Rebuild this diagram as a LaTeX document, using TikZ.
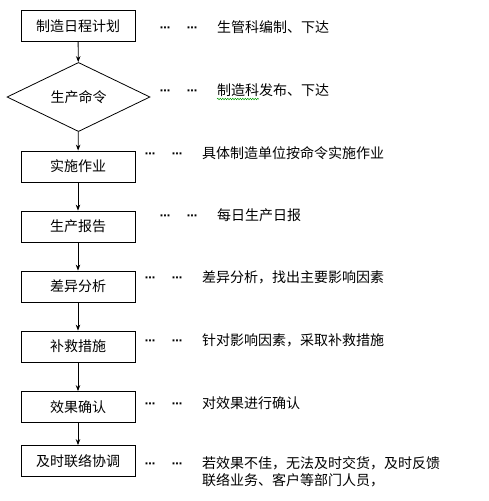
\documentclass[tikz,border=0pt]{standalone}
\usepackage{fontspec}
\setmainfont{Noto Sans CJK SC}
\newfontfamily\dotfont{DejaVu Sans}
\usetikzlibrary{shapes.geometric,arrows.meta,decorations.pathmorphing}
\begin{document}
\begin{tikzpicture}[x=1pt,y=-1pt,
  txt/.style={font=\fontsize{14}{16}\selectfont},
  stepbox/.style={txt,draw,line width=0.8pt,minimum width=114pt,minimum height=31pt,inner sep=0pt},
  decision/.style={txt,draw,line width=0.8pt,diamond,minimum width=143pt,minimum height=52pt,inner sep=0pt},
  flow/.style={draw,line width=0.8pt,-{Stealth[length=6pt,width=4.5pt]}},
  note/.style={txt,anchor=west,inner sep=0pt},
  dots/.style={inner sep=0pt,anchor=base,font=\dotfont\bfseries\fontsize{10.5}{12}\selectfont}]
\useasboundingbox (0,0) rectangle (488,501);
\node[stepbox] (b1) at (78,26) {制造日程计划};
\node[decision] (b2) at (78.5,97) {生产命令};
\node[stepbox] (b3) at (78,166.5) {实施作业};
\node[stepbox] (b4) at (78,226.5) {生产报告};
\node[stepbox] (b5) at (78,286.5) {差异分析};
\node[stepbox] (b6) at (78,346.5) {补救措施};
\node[stepbox] (b7) at (78,407) {效果确认};
\node[stepbox] (b8) at (78,461) {及时联络协调};
\draw[flow] (b1) -- (b2);
\draw[flow] (b2) -- (b3);
\draw[flow] (b3) -- (b4);
\draw[flow] (b4) -- (b5);
\draw[flow] (b5) -- (b6);
\draw[flow] (b6) -- (b7);
\draw[flow] (b7) -- (b8);
% side notes
\node[note] (n1) at (217,27) {生管科编制、下达};
\node[note] (n2) at (217,90) {制造科发布、下达};
\node[note] (n3) at (202,153) {具体制造单位按命令实施作业};
\node[note] (n4) at (217,215) {每日生产日报};
\node[note] (n5) at (202,277) {差异分析，找出主要影响因素};
\node[note] (n6) at (202,340) {针对影响因素，采取补救措施};
\node[note] (n7) at (202,403) {对效果进行确认};
\node[note] (n8) at (202,463) {若效果不佳，无法及时交货，及时反馈};
\node[note] (n9) at (202,480) {联络业务、客户等部门人员，};
\foreach \n in {1,...,8}{
  \node[dots] (da\n) at ([xshift=-52pt,yshift=1pt]n\n.base west) {⋯};
  \node[dots] (db\n) at ([xshift=-25pt,yshift=1pt]n\n.base west) {⋯};
}
\coordinate (w2) at ([yshift=-9pt]n2.west);
\draw[green!60!black,line width=0.5pt,decorate,decoration={snake,amplitude=0.7pt,segment length=2.5pt}] (w2) -- ++(42,0);
\end{tikzpicture}
\end{document}
